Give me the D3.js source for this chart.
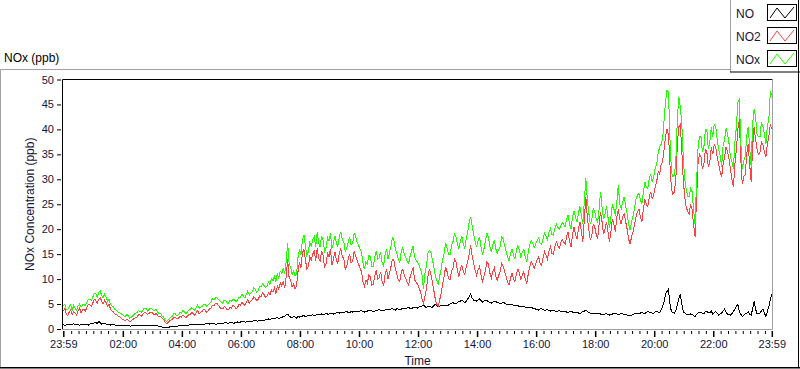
<!DOCTYPE html>
<html>

<head>
    <script type="text/javascript" src="https://d3js.org/d3.v7.min.js"></script>
    <style>
        body { margin: 0; background: white; }
        text { font-family: "Liberation Sans", Arial, sans-serif; }
    </style>
</head>

<body>
    <script>

        // one reading every 3 minutes, starting 23:59 (one row = one hour)
        var startTime = new Date(2000, 0, 1, 23, 59)
        var stepMinutes = 3

        var seriesNames = ["NO", "NO2", "NOx"]
        var yTicks = [0, 5, 10, 15, 20, 25, 30, 35, 40, 45, 50]

        var no = [
            0.9, 0.7, 0.8, 1.0, 1.0, 0.8, 0.9, 1.1, 0.8, 0.9, 0.9, 0.7, 1.0, 0.9, 0.8, 1.0, 0.9, 0.8, 1.0, 1.1,
            1.1, 1.2, 1.3, 1.1, 1.5, 1.3, 1.0, 1.2, 1.2, 1.0, 0.9, 1.0, 0.8, 0.9, 0.9, 0.8, 0.8, 0.7, 0.7, 0.8,
            0.8, 0.7, 0.7, 0.8, 0.8, 0.6, 0.6, 0.7, 0.7, 0.8, 0.8, 0.7, 0.6, 0.7, 0.7, 0.8, 0.8, 0.6, 0.7, 0.7,
            0.7, 0.6, 0.8, 0.7, 0.6, 0.5, 0.5, 0.4, 0.4, 0.3, 0.3, 0.4, 0.4, 0.5, 0.5, 0.6, 0.6, 0.5, 0.6, 0.7,
            0.7, 0.8, 0.8, 0.7, 0.7, 0.8, 0.9, 0.9, 0.8, 0.9, 0.9, 1.0, 1.0, 0.9, 0.9, 1.0, 1.0, 1.1, 1.1, 1.0,
            1.1, 1.2, 1.2, 1.0, 1.0, 1.1, 1.2, 1.1, 1.1, 1.2, 1.3, 1.2, 1.2, 1.3, 1.3, 1.2, 1.2, 1.3, 1.4, 1.3,
            1.4, 1.5, 1.5, 1.4, 1.4, 1.6, 1.6, 1.5, 1.5, 1.7, 1.7, 1.6, 1.6, 1.8, 1.8, 1.7, 1.7, 1.9, 1.9, 2.0,
            1.9, 2.1, 2.0, 2.1, 2.2, 2.3, 2.0, 2.2, 2.3, 2.5, 2.6, 2.8, 3.0, 2.6, 2.4, 2.3, 2.5, 2.4, 2.2, 2.6,
            2.4, 2.5, 2.6, 2.7, 2.5, 2.6, 2.8, 2.7, 2.7, 2.9, 2.6, 2.8, 3.0, 2.9, 2.8, 3.0, 2.9, 3.0, 3.1, 3.0,
            3.0, 3.1, 3.2, 3.0, 3.1, 3.3, 3.3, 3.2, 3.4, 3.3, 3.2, 3.4, 3.5, 3.3, 3.3, 3.5, 3.4, 3.6, 3.6, 3.5,
            3.5, 3.6, 3.7, 3.5, 3.4, 3.5, 3.6, 3.7, 3.8, 3.6, 3.5, 3.6, 3.7, 3.8, 3.9, 3.7, 3.6, 3.7, 3.8, 3.9,
            3.8, 3.9, 4.0, 4.1, 3.9, 3.8, 4.1, 4.0, 3.8, 4.0, 4.2, 4.1, 4.0, 4.2, 4.3, 4.1, 4.1, 4.3, 4.4, 4.3,
            4.2, 4.4, 4.5, 4.6, 4.8, 4.5, 4.3, 4.5, 4.6, 4.4, 4.4, 4.7, 4.9, 4.7, 4.5, 4.6, 4.7, 4.8, 4.8, 4.7,
            4.6, 4.8, 5.0, 5.2, 5.3, 5.1, 5.0, 5.3, 5.5, 5.6, 5.8, 5.5, 5.2, 5.6, 6.0, 6.5, 7.0, 6.2, 5.8, 5.7,
            5.6, 5.8, 6.0, 5.7, 5.4, 5.6, 5.8, 5.7, 5.5, 5.3, 5.2, 5.4, 5.6, 5.5, 5.3, 5.2, 5.0, 5.2, 5.4, 5.2,
            5.0, 4.9, 4.8, 4.9, 4.9, 4.7, 4.6, 4.8, 4.7, 4.5, 4.4, 4.6, 4.5, 4.4, 4.3, 4.4, 4.4, 4.3, 4.2, 4.1,
            4.0, 3.9, 3.8, 4.0, 4.1, 3.9, 3.7, 3.8, 3.9, 3.7, 3.6, 3.7, 3.8, 3.6, 3.5, 3.6, 3.7, 3.5, 3.4, 3.5,
            3.5, 3.4, 3.3, 3.5, 3.6, 3.4, 3.2, 3.3, 3.4, 3.2, 3.1, 3.3, 3.5, 3.6, 3.8, 3.5, 3.3, 3.2, 3.2, 3.1,
            3.0, 3.1, 3.2, 3.1, 3.0, 2.9, 2.9, 3.0, 3.1, 2.9, 2.8, 2.9, 3.0, 3.1, 3.2, 3.0, 2.9, 3.0, 3.1, 3.0,
            3.0, 2.9, 2.8, 2.7, 2.6, 2.8, 2.9, 3.1, 3.2, 3.1, 3.0, 3.2, 3.4, 3.2, 3.1, 3.3, 3.5, 3.4, 3.3, 3.2,
            3.2, 3.4, 3.5, 3.4, 3.3, 3.8, 4.5, 5.5, 7.0, 7.5, 8.0, 5.0, 3.5, 3.3, 3.2, 3.6, 5.0, 6.0, 7.0, 5.0,
            3.5, 3.2, 3.0, 2.9, 2.8, 3.0, 2.9, 2.7, 2.5, 2.9, 3.2, 3.4, 3.4, 3.1, 3.0, 3.5, 3.6, 3.2, 3.3, 3.6,
            3.0, 3.3, 3.5, 3.2, 2.8, 3.0, 3.2, 3.6, 4.0, 3.4, 3.0, 2.9, 2.8, 3.1, 3.5, 4.0, 4.5, 5.0, 3.5, 3.0,
            2.5, 2.8, 3.0, 3.2, 3.5, 3.0, 2.8, 4.0, 5.5, 4.0, 3.0, 3.1, 3.2, 3.6, 4.0, 3.2, 2.5, 3.5, 4.5, 6.0, 7.0
        ]

        var no2 = [
            3.6, 4.1, 3.0, 2.7, 3.4, 3.9, 2.9, 3.5, 3.2, 2.8, 3.6, 4.2, 3.3, 3.8, 4.0, 3.6, 4.4, 5.0, 4.9, 4.5,
            5.2, 5.9, 5.8, 5.1, 6.0, 6.3, 5.6, 5.0, 5.8, 5.3, 4.6, 4.9, 4.0, 3.6, 3.4, 3.0, 2.9, 2.6, 2.5, 2.2,
            2.0, 1.8, 1.7, 2.0, 1.8, 1.5, 1.6, 1.9, 2.1, 2.3, 2.4, 2.9, 2.8, 2.6, 3.0, 3.3, 3.2, 2.9, 3.1, 3.4,
            3.3, 3.0, 2.9, 3.1, 2.7, 2.4, 2.5, 2.1, 1.9, 1.4, 1.1, 1.3, 1.6, 1.8, 2.0, 2.4, 2.3, 2.0, 2.2, 2.5,
            2.4, 2.8, 2.6, 2.3, 2.5, 2.9, 2.9, 3.3, 3.1, 2.8, 3.3, 3.7, 3.0, 3.4, 3.5, 3.9, 3.8, 3.4, 3.6, 4.0,
            4.2, 4.8, 4.6, 5.1, 5.2, 4.7, 4.4, 4.1, 4.0, 4.5, 4.3, 3.8, 3.9, 4.4, 4.2, 4.7, 4.5, 4.1, 4.3, 4.9,
            4.8, 5.3, 5.0, 4.7, 5.4, 5.9, 5.1, 5.6, 5.8, 6.4, 6.2, 5.7, 5.9, 6.6, 6.5, 7.2, 6.9, 6.3, 6.6, 7.3,
            6.8, 7.8, 7.4, 8.3, 7.1, 8.6, 8.0, 9.2, 8.6, 9.5, 8.2, 10.5, 14.0, 10.2, 9.8, 8.4, 9.0, 8.1, 8.6, 11.5,
            13.5, 12.2, 15.2, 16.0, 14.0, 12.0, 12.6, 14.5, 13.8, 15.0, 15.8, 13.6, 16.2, 14.2, 13.5, 15.6, 14.8, 12.4, 13.0, 15.2,
            14.5, 16.0, 12.8, 14.0, 15.5, 13.8, 13.2, 15.2, 16.0, 14.5, 14.2, 12.0, 12.5, 14.0, 15.0, 13.2, 13.6, 15.5, 14.8, 13.8,
            13.0, 12.2, 11.5, 9.5, 8.5, 9.8, 9.2, 10.8, 10.5, 8.8, 9.0, 10.5, 11.8, 10.0, 10.2, 11.5, 9.5, 8.6, 11.0, 12.0,
            10.0, 11.2, 12.5, 14.0, 13.8, 12.0, 11.0, 9.8, 9.5, 11.5, 12.0, 10.8, 10.2, 9.2, 8.8, 10.5, 11.5, 12.2, 9.8, 9.4,
            9.0, 8.2, 7.5, 6.0, 5.2, 6.5, 8.0, 10.5, 12.0, 11.0, 9.5, 7.8, 6.0, 5.0, 4.6, 5.8, 7.2, 9.0, 10.5, 12.5,
            11.5, 10.2, 9.8, 11.5, 12.2, 14.0, 13.6, 11.8, 10.5, 12.0, 12.8, 11.5, 11.0, 12.5, 13.5, 15.0, 16.8, 14.5, 13.2, 11.8,
            10.8, 11.8, 12.5, 10.8, 9.5, 10.5, 11.8, 13.5, 13.0, 11.2, 10.2, 11.5, 12.2, 10.6, 9.8, 10.8, 11.5, 13.2, 12.6, 11.5,
            10.5, 9.5, 8.8, 10.2, 11.2, 10.0, 9.5, 11.0, 12.0, 11.2, 10.0, 10.8, 11.5, 10.0, 9.2, 11.0, 12.5, 13.5, 13.0, 12.2,
            13.0, 13.8, 14.5, 13.2, 12.8, 14.2, 15.5, 14.8, 14.0, 15.6, 16.5, 15.2, 15.0, 16.5, 17.5, 16.8, 16.2, 17.2, 18.0, 17.4,
            17.0, 18.5, 19.5, 17.5, 16.5, 19.0, 20.5, 19.0, 18.0, 20.0, 21.5, 19.5, 17.5, 22.0, 26.5, 22.5, 20.0, 18.0, 18.5, 21.0,
            20.5, 19.0, 18.0, 21.0, 23.5, 21.5, 19.0, 20.0, 21.5, 19.5, 17.5, 19.5, 22.0, 21.0, 19.5, 22.5, 24.0, 22.0, 21.0, 22.5,
            23.0, 21.5, 20.0, 18.0, 17.0, 18.5, 19.5, 21.0, 22.5, 23.5, 24.0, 22.5, 21.5, 24.0, 26.0, 25.0, 24.5, 26.5, 27.5, 26.0,
            27.0, 28.5, 29.5, 31.5, 31.0, 33.0, 33.5, 36.0, 38.5, 40.0, 39.0, 33.0, 28.0, 27.0, 27.5, 30.0, 37.0, 40.5, 41.0, 36.0,
            30.0, 26.5, 24.5, 23.5, 23.0, 25.0, 24.0, 21.0, 18.5, 26.0, 33.0, 35.0, 34.5, 32.0, 33.0, 36.0, 35.5, 32.5, 33.5, 36.5,
            35.0, 37.0, 36.5, 34.5, 33.0, 31.5, 30.5, 33.0, 34.5, 36.5, 35.5, 34.0, 32.0, 30.0, 28.5, 33.0, 36.0, 40.0, 42.0, 34.0,
            29.0, 30.5, 31.0, 35.0, 37.0, 33.0, 29.5, 36.5, 40.5, 38.0, 36.0, 35.0, 35.5, 37.5, 37.0, 35.5, 34.5, 37.0, 38.5, 41.0, 40.0
        ]

        var nox = [
            4.6, 5.0, 3.9, 3.8, 4.5, 4.8, 3.8, 4.7, 4.1, 3.8, 4.6, 5.0, 4.4, 4.8, 4.9, 4.7, 5.4, 6.0, 6.0, 5.7,
            6.4, 7.2, 7.2, 6.3, 7.4, 7.6, 6.7, 6.3, 7.0, 6.4, 5.6, 6.0, 4.9, 4.6, 4.4, 3.9, 3.8, 3.4, 3.3, 3.1,
            2.9, 2.6, 2.5, 2.9, 2.7, 2.2, 2.3, 2.7, 2.9, 3.2, 3.3, 3.7, 3.5, 3.4, 3.8, 4.2, 4.1, 3.6, 3.9, 4.2,
            4.1, 3.7, 3.8, 3.9, 3.4, 3.0, 3.1, 2.6, 2.4, 1.8, 1.5, 1.8, 2.1, 2.4, 2.6, 3.1, 3.0, 2.6, 2.9, 3.3,
            3.2, 3.7, 3.5, 3.1, 3.3, 3.8, 3.9, 4.3, 4.0, 3.8, 4.3, 4.8, 4.1, 4.4, 4.5, 5.0, 4.9, 4.6, 4.8, 5.1,
            5.4, 6.1, 5.9, 6.2, 6.3, 5.9, 5.7, 5.3, 5.2, 5.8, 5.7, 5.1, 5.2, 5.8, 5.6, 6.0, 5.8, 5.5, 5.8, 6.3,
            6.3, 6.9, 6.6, 6.2, 6.9, 7.6, 6.8, 7.2, 7.4, 8.2, 8.0, 7.4, 7.6, 8.5, 8.4, 9.0, 8.7, 8.3, 8.6, 9.4,
            8.9, 10.1, 9.6, 10.6, 9.5, 11.1, 10.2, 11.6, 11.1, 12.2, 11.0, 13.5, 17.2, 13.0, 12.4, 10.9, 11.6, 10.7, 11.0, 14.3,
            16.0, 14.8, 17.9, 18.9, 16.6, 14.7, 15.5, 17.3, 16.6, 18.0, 18.5, 16.5, 19.4, 17.2, 16.4, 18.7, 17.8, 15.5, 16.2, 18.3,
            17.6, 19.2, 16.1, 17.1, 18.7, 17.2, 16.6, 18.5, 19.5, 17.9, 17.5, 15.5, 16.1, 17.4, 18.4, 16.8, 17.1, 19.2, 18.5, 17.4,
            16.8, 16.0, 15.4, 13.2, 12.0, 13.5, 13.0, 14.7, 14.5, 12.6, 12.6, 14.3, 15.7, 14.0, 14.3, 15.4, 13.3, 12.5, 15.0, 16.1,
            14.0, 15.3, 16.6, 18.3, 17.8, 15.9, 15.2, 13.9, 13.4, 15.6, 16.3, 15.0, 14.3, 13.5, 13.2, 14.7, 15.7, 16.6, 14.3, 13.8,
            13.4, 12.8, 12.0, 10.8, 8.0, 11.2, 12.5, 15.2, 15.8, 15.5, 14.0, 12.6, 10.8, 9.8, 9.0, 10.6, 12.0, 14.0, 15.2, 17.3,
            16.1, 15.0, 14.8, 16.7, 17.5, 19.1, 18.6, 17.1, 16.0, 17.6, 18.6, 17.0, 16.2, 18.1, 19.5, 21.5, 22.5, 20.7, 19.0, 17.5,
            16.4, 17.6, 18.5, 16.5, 14.9, 16.1, 17.6, 19.2, 18.5, 16.5, 15.4, 16.9, 17.8, 16.1, 15.1, 16.0, 16.5, 18.4, 18.0, 16.7,
            15.5, 14.4, 13.6, 15.1, 16.1, 14.7, 14.1, 15.8, 16.7, 15.7, 14.4, 15.4, 16.0, 14.4, 13.5, 15.4, 16.9, 17.8, 17.2, 16.3,
            17.0, 17.7, 18.3, 17.2, 16.9, 18.1, 19.2, 18.6, 17.9, 19.3, 20.1, 18.9, 18.8, 20.1, 21.0, 20.4, 19.9, 20.7, 21.4, 20.9,
            20.5, 22.0, 22.8, 21.0, 20.1, 22.4, 23.7, 22.3, 21.4, 23.2, 24.6, 22.8, 21.0, 25.6, 30.3, 26.0, 23.3, 21.2, 21.7, 24.1,
            23.5, 22.1, 21.2, 24.1, 27.5, 24.4, 22.0, 23.0, 24.6, 22.4, 20.3, 22.4, 25.0, 24.1, 22.7, 25.5, 28.8, 25.0, 24.1, 25.5,
            26.5, 24.6, 23.0, 20.9, 19.8, 21.5, 22.6, 24.3, 26.0, 26.8, 27.2, 25.9, 25.0, 27.4, 29.5, 28.5, 28.2, 30.2, 31.0, 29.4,
            30.5, 32.2, 33.0, 35.2, 36.5, 37.0, 38.0, 41.8, 45.5, 47.8, 47.5, 38.2, 31.5, 30.5, 30.8, 33.8, 42.0, 46.5, 44.5, 41.2,
            34.5, 30.0, 28.0, 26.6, 26.5, 28.2, 27.5, 24.0, 21.0, 29.2, 36.0, 38.6, 38.5, 35.4, 36.5, 40.0, 40.0, 36.0, 37.5, 40.5,
            38.5, 41.0, 40.5, 38.0, 36.0, 34.8, 32.5, 36.8, 38.0, 40.2, 39.0, 37.2, 34.5, 33.5, 32.0, 37.5, 40.5, 45.5, 46.0, 37.5,
            32.0, 33.8, 34.5, 38.6, 40.5, 36.5, 32.5, 41.0, 44.0, 42.5, 39.0, 38.5, 38.5, 41.5, 40.5, 39.0, 37.0, 40.8, 42.0, 47.5, 47.0
        ]

        var seriesColors = ["#000000", "#ff4040", "#20ff00"]
        var seriesData = [no, no2, nox]

        var w = 800, h = 369
        var svg = d3.select('body').append('svg')
        svg.attr('width', w).attr('height', h);

        var plotLeft = 63.3, plotRight = 771.8, plotTop = 79.5, plotBottom = 329

        var endTime = d3.timeHour.offset(startTime, 24)
        var xscale = d3.scaleTime()
            .domain([startTime, endTime])
            .range([plotLeft, plotRight])

        var yscale = d3.scaleLinear()
            .domain([0, 50])
            .range([plotBottom, plotTop])

        // outer frame (3d look: gray top/left, black bottom/right)
        svg.append("line").attr("x1", 0.5).attr("y1", 69.5).attr("x2", 731).attr("y2", 69.5).attr("stroke", "#a0a0a0")
        svg.append("line").attr("x1", 0.5).attr("y1", 69.5).attr("x2", 0.5).attr("y2", 368).attr("stroke", "#a0a0a0")
        svg.append("line").attr("x1", 0).attr("y1", 367.8).attr("x2", 800).attr("y2", 367.8).attr("stroke", "black").attr("stroke-width", 1.5)
        svg.append("line").attr("x1", 798.5).attr("y1", 69).attr("x2", 798.5).attr("y2", 368).attr("stroke", "black")

        svg.append("text")
            .attr("x", 4)
            .attr("y", 62)
            .attr("font-size", "12px")
            .text("NOx (ppb)")

        // plot area border
        svg.append("line").attr("x1", 62.5).attr("y1", plotTop).attr("x2", 772.5).attr("y2", plotTop).attr("stroke", "black")
        svg.append("line").attr("x1", 62.5).attr("y1", plotTop).attr("x2", 62.5).attr("y2", plotBottom + 0.5).attr("stroke", "black")
        svg.append("line").attr("x1", 772.5).attr("y1", plotTop).attr("x2", 772.5).attr("y2", plotBottom + 0.5).attr("stroke", "#a0a0a0")
        svg.append("line").attr("x1", 62.5).attr("y1", plotBottom + 0.5).attr("x2", 772.5).attr("y2", plotBottom + 0.5).attr("stroke", "#a0a0a0")

        // y axis
        var yAxis = svg.append("g")
            .attr("transform", "translate(61," + 0 + ")")
            .call(d3.axisLeft(yscale).tickValues(yTicks).tickSize(4).tickPadding(3))
        yAxis.select(".domain").remove()
        yAxis.selectAll("text").attr("font-family", "Liberation Sans").attr("font-size", "11px").attr("fill", "#14143a")

        // x axis, labels at 2 hour steps plus both ends
        var evenHours = d3.timeHour.every(2).range(d3.timeHour.offset(startTime, 1), endTime)
        var majorTicks = [startTime].concat(evenHours).concat([endTime])
        var minorTicks = d3.timeMinute.every(15).range(d3.timeMinute.offset(startTime, 2), endTime)
            .filter(d => !(d.getMinutes() == 0 && d.getHours() % 2 == 0 && d > evenHours[0] - 1))

        var xAxis = svg.append("g")
            .attr("transform", "translate(0," + (plotBottom + 2) + ")")
            .call(d3.axisBottom(xscale).tickValues(majorTicks).tickFormat(d3.timeFormat("%H:%M")).tickSize(6).tickPadding(3))
        xAxis.select(".domain").remove()
        xAxis.selectAll("line").attr("stroke-width", 1.5)
        xAxis.selectAll("text").attr("font-family", "Liberation Sans").attr("font-size", "11px").attr("fill", "#14143a")

        svg.append("g")
            .attr("transform", "translate(0," + (plotBottom + 2) + ")")
            .call(d3.axisBottom(xscale).tickValues(minorTicks).tickFormat("").tickSize(3))
            .select(".domain").remove()

        // axes labels
        svg.append("text")
            .attr("transform", "rotate(-90)")
            .attr("y", 34)
            .attr("x", -(plotTop + plotBottom) / 2)
            .style("text-anchor", "middle")
            .attr("font-size", "12px")
            .attr("fill", "#14143a")
            .text("NOx Concentration (ppb)");

        svg.append("text")
            .attr("y", 365)
            .attr("x", (plotLeft + plotRight) / 2)
            .style("text-anchor", "middle")
            .attr("font-size", "12px")
            .attr("fill", "#14143a")
            .text("Time")

        // lines, drawn without antialiasing like the original
        var line = d3.line()
            .x((d, i) => xscale(d3.timeMinute.offset(startTime, i * stepMinutes)))
            .y(d => yscale(d))

        seriesData.forEach(function (vals, k) {
            svg.append("path")
                .datum(vals)
                .attr("d", line)
                .attr("fill", "none")
                .attr("stroke", seriesColors[k])
                .attr("stroke-width", 1)
                .attr("shape-rendering", "crispEdges")
        })

        // legend box in the top right corner
        svg.append("rect").attr("x", 730.5).attr("y", -1).attr("width", 68).attr("height", 72.5).attr("fill", "white").attr("stroke", "none")
        svg.append("line").attr("x1", 730.5).attr("y1", 0).attr("x2", 730.5).attr("y2", 72).attr("stroke", "#a0a0a0")
        svg.append("line").attr("x1", 730).attr("y1", 72).attr("x2", 800).attr("y2", 72).attr("stroke", "black").attr("stroke-width", 1.2)
        svg.append("line").attr("x1", 798.5).attr("y1", 0).attr("x2", 798.5).attr("y2", 72).attr("stroke", "black")

        var zig = d3.line()
        seriesNames.forEach(function (name, k) {
            var cy = 13 + k * 23
            svg.append("text")
                .attr("x", 736)
                .attr("y", cy + 4.5)
                .attr("font-size", "12px")
                .attr("fill", "#14143a")
                .text(name)
            svg.append("rect")
                .attr("x", 767.5).attr("y", cy - 8.5)
                .attr("width", 29).attr("height", 16)
                .attr("fill", "white").attr("stroke", "black")
            svg.append("path")
                .attr("d", zig([[770, cy + 5], [777, cy - 5], [785, cy + 5], [794, cy - 6]]))
                .attr("fill", "none")
                .attr("stroke", seriesColors[k])
        })

    </script>
</body>
</html>
